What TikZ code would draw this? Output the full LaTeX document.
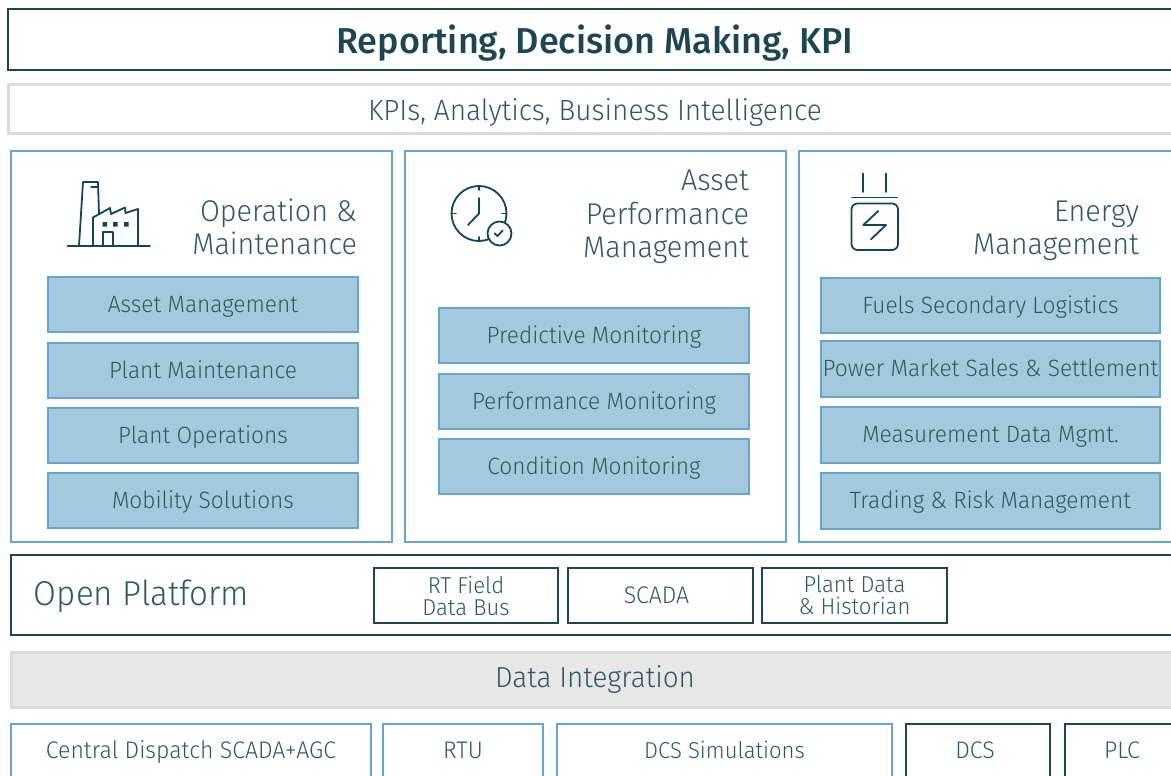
\documentclass[tikz,border=0pt]{standalone}
\usepackage{fontspec}
\setmainfont[FakeStretch=0.96]{Fira Sans Light}
\newfontfamily\titlefont{Fira Sans Medium}
\definecolor{ink}{HTML}{2F5866}
\definecolor{dark}{HTML}{1D4552}
\definecolor{icon}{HTML}{0F4658}
\definecolor{blueline}{HTML}{69A4CE}
\definecolor{bluefill}{HTML}{A3C9DC}
\definecolor{greyline}{HTML}{DADDDC}
\definecolor{greyfill}{HTML}{E7E7E6}
\tikzset{
  base/.style={rectangle,inner sep=0pt,outer sep=0pt,text=ink,align=center},
  titlebox/.style={base,draw=dark,line width=2.5pt,text=dark,text height=36pt,text depth=7pt,font=\titlefont\fontsize{36}{40}\selectfont},
  kpibox/.style={base,draw=greyline,line width=3pt,text height=30pt,text depth=6pt,font=\fontsize{29.2}{33}\selectfont},
  panel/.style={base,draw=blueline,line width=2pt},
  heading/.style={base,anchor=east,align=right,font=\fontsize{30}{33.3}\selectfont},
  item/.style={base,draw=blueline,line width=2pt,fill=bluefill,text height=21pt,text depth=6pt,font=\fontsize{23.6}{27}\selectfont},
  platform/.style={base,draw=dark,line width=2pt},
  platformtitle/.style={base,anchor=west,font=\fontsize{34.5}{40}\selectfont},
  inner box/.style={base,draw=dark,line width=2pt,font=\fontsize{23}{22}\selectfont},
  integration/.style={base,draw=greyline,fill=greyfill,line width=3pt,text height=24pt,text depth=8pt,font=\fontsize{29}{33}\selectfont},
  source/.style={base,text height=22pt,text depth=6pt,font=\fontsize{24}{27}\selectfont},
  blueedge/.style={draw=blueline,line width=2pt},
  darkedge/.style={draw=dark,line width=2pt},
  iconline/.style={draw=icon,line width=1.8pt,line cap=round,line join=round},
}
\newcommand{\bx}[7]{% style, name, x1, y1, x2, y2, text
  \node[#1,minimum width=#5pt-#3pt,minimum height=#6pt-#4pt] (#2) at ({(#3+#5)/2},{(#4+#6)/2}) {#7};}
\begin{document}
\begin{tikzpicture}[x=1pt,y=-1pt]
\useasboundingbox (0,0) rectangle (1171,776);
\clip (0,0) rectangle (1171,776);
\bx{titlebox}{report}{8}{9}{1182}{70}{Reporting, Decision Making, KPI}
\bx{kpibox}{kpi}{8}{85}{1182}{133}{KPIs, Analytics, Business Intelligence}
% panels
\bx{panel}{om}{11}{151}{392}{542}{}
\bx{panel}{apm}{405}{151}{786}{542}{}
\bx{panel}{em}{799}{151}{1180}{542}{}
\node[heading] (omh) at (357,227) {Operation \&\\Maintenance};
\node[heading] (apmh) at (749,217) {Asset\\Performance\\Management};
\node[heading] (emh) at (1139,231) {Energy\\Management};
% column 1
\bx{item}{a1}{48}{277}{358}{332}{Asset Management}
\bx{item}{a2}{48}{343}{358}{398}{Plant Maintenance}
\bx{item}{a3}{48}{408}{358}{463}{Plant Operations}
\bx{item}{a4}{48}{473}{358}{528}{Mobility Solutions}
% column 2
\bx{item}{b1}{439}{308}{749}{363}{Predictive Monitoring}
\bx{item}{b2}{439}{374}{749}{429}{Performance Monitoring}
\bx{item}{b3}{439}{439}{749}{494}{Condition Monitoring}
% column 3
\bx{item}{c1}{821}{278}{1160}{333}{Fuels Secondary Logistics}
\bx{item}{c2}{821}{341}{1160}{397}{Power Market Sales \& Settlement}
\bx{item}{c3}{821}{407}{1160}{463}{Measurement Data Mgmt.}
\bx{item}{c4}{821}{473}{1160}{529}{Trading \& Risk Management}
% platform
\bx{platform}{open}{11}{555}{1180}{635}{}
\node[platformtitle] (opent) at (34,596) {Open Platform};
\bx{inner box}{rt}{374}{568}{558}{623}{RT Field\\Data Bus}
\bx{inner box}{scada}{568}{568}{753}{623}{\fontsize{24}{27}\selectfont SCADA\hspace*{8pt}}
\bx{inner box}{hist}{762}{568}{947}{623}{Plant Data\\\& Historian}
% integration
\bx{integration}{integ}{11}{652}{1179}{707}{Data Integration}
% sources (cut by the lower edge)
\bx{source}{s1}{11}{724}{371}{776}{Central Dispatch SCADA+AGC}
\bx{source}{s2}{383}{724}{543}{776}{RTU}
\bx{source}{s3}{557}{724}{892}{776}{\fontsize{23}{27}\selectfont DCS Simulations}
\bx{source}{s4}{906}{724}{1050}{776}{DCS\hspace*{6pt}}
\bx{source}{s5}{1065}{724}{1215}{776}{}
\node[source] (s5t) at (1122,750) {PLC};
\draw[blueedge] (s1.south west)--(s1.north west)--(s1.north east)--(s1.south east);
\draw[blueedge] (s2.south west)--(s2.north west)--(s2.north east)--(s2.south east);
\draw[blueedge] (s3.south west)--(s3.north west)--(s3.north east)--(s3.south east);
\draw[darkedge] (s4.south west)--(s4.north west)--(s4.north east)--(s4.south east);
\draw[darkedge] (s5.south west)--(s5.north west)--(s5.north east)--(s5.south east);
% factory icon
\draw[iconline] (67.5,246)--(150,246);
\draw[iconline] (79,246)--(83,182)--(98,182)--(99,214);
\draw[iconline,line width=1.2pt] (91,187)--(98,187);
\draw[iconline] (93,246)--(93,217.5)--(110,208)--(111,214)--(125,207.5)--(125.5,213)--(138,209)--(138,246);
\draw[iconline] (103,246)--(103,232)--(113,232)--(113,246);
\fill[icon] (102.5,222) rectangle (107,226.5) (113,222) rectangle (117.5,226.5) (124,222) rectangle (128.5,226.5);
% clock icon
\draw[iconline] (479,213.5) circle[radius=27.5];
\draw[iconline] (479,186)--(479,190) (479,237)--(479,241) (451.5,213.5)--(456,213.5) (502,213.5)--(506.5,213.5);
\draw[iconline] (479,198)--(479,213.5)--(468,225);
\draw[iconline,fill=white] (499.5,233.5) circle[radius=12];
\draw[iconline] (494.7,233.3)--(497.5,236)--(502.7,230.5);
% energy icon
\draw[iconline] (862.7,173.5)--(862.7,192) (886,173.5)--(886,192);
\draw[iconline] (852,197.5)--(897,197.5);
\draw[iconline,rounded corners=6pt] (851.5,203.5) rectangle (898,250);
\draw[iconline] (878.3,211)--(863.3,225)--(886,225)--(871,239.3);
\end{tikzpicture}
\end{document}
